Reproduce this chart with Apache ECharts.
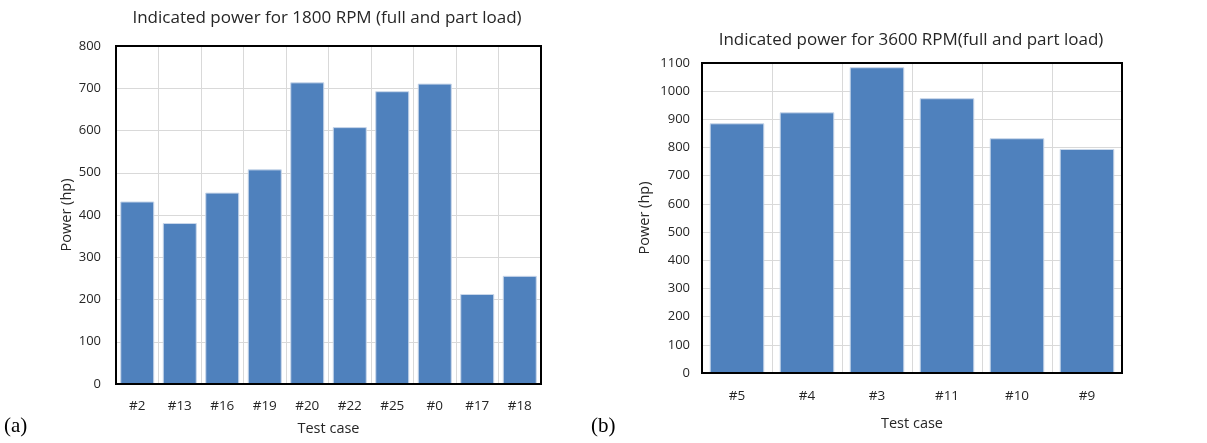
<!DOCTYPE html>
<html>
<head>
<meta charset="utf-8">
<script src="https://cdn.jsdelivr.net/npm/echarts@6/dist/echarts.min.js"></script>
<style>
html,body{margin:0;padding:0;background:#fff;}
#c{width:1207px;height:443px;}
</style>
</head>
<body>
<div id="c"></div>
<script>
const casesA = ['#2','#13','#16','#19','#20','#22','#25','#0','#17','#18'];
const powerA = [432, 381, 453, 508, 714, 608, 693, 711, 213, 256];
const casesB = ['#5','#4','#3','#11','#10','#9'];
const powerB = [886, 925, 1085, 975, 833, 795];
const titleA = 'Indicated power for 1800 RPM (full and part load)';
const titleB = 'Indicated power for 3600 RPM(full and part load)';

const FONT = '"Open Sans", "Noto Sans", sans-serif';
const txt = '#262626';
const gridLine = { show: true, showMinLine: false, showMaxLine: false, lineStyle: { color: '#d9d9d9', width: 1 } };
const barColor = '#4f81bd';

const chart = echarts.init(document.getElementById('c'), null, { renderer: 'canvas' });
chart.setOption({
  animation: false,
  backgroundColor: '#fff',
  title: [
    { text: titleA, left: 322, top: 5, textAlign: 'center',
      textStyle: { fontFamily: FONT, fontSize: 17, fontWeight: 'normal', color: txt } },
    { text: titleB, left: 906, top: 27, textAlign: 'center',
      textStyle: { fontFamily: FONT, fontSize: 17, fontWeight: 'normal', color: txt } }
  ],
  graphic: [
    { type: 'text', left: 4, top: 416, style: { text: '(a)', font: '21px "Liberation Serif", serif', fill: '#000' } },
    { type: 'text', left: 591, top: 416, style: { text: '(b)', font: '21px "Liberation Serif", serif', fill: '#000' } }
  ],
  grid: [
    { left: 116, right: 666, top: 46, bottom: 59, show: true, borderColor: '#000', borderWidth: 2, containLabel: false, z: 3 },
    { left: 702, right: 85, top: 63, bottom: 70, show: true, borderColor: '#000', borderWidth: 2, containLabel: false, z: 3 }
  ],
  xAxis: [
    { type: 'category', gridIndex: 0, data: casesA,
      axisLine: { show: true, lineStyle: { color: '#000', width: 2 } }, axisTick: { show: false },
      splitLine: gridLine,
      axisLabel: { margin: 15, fontFamily: FONT, fontSize: 13.5, color: txt },
      name: 'Test case', nameLocation: 'middle', nameGap: 37,
      nameTextStyle: { fontFamily: FONT, fontSize: 14.5, color: txt } },
    { type: 'category', gridIndex: 1, data: casesB,
      axisLine: { show: true, lineStyle: { color: '#000', width: 2 } }, axisTick: { show: false },
      splitLine: gridLine,
      axisLabel: { margin: 16, fontFamily: FONT, fontSize: 13.5, color: txt },
      name: 'Test case', nameLocation: 'middle', nameGap: 43,
      nameTextStyle: { fontFamily: FONT, fontSize: 14.5, color: txt } }
  ],
  yAxis: [
    { type: 'value', gridIndex: 0, min: 0, max: 800, interval: 100,
      axisLine: { show: true, lineStyle: { color: '#000', width: 2 } }, axisTick: { show: false },
      splitLine: gridLine,
      axisLabel: { margin: 15, fontFamily: FONT, fontSize: 13, color: txt, formatter: v => String(v) },
      name: 'Power (hp)', nameLocation: 'middle', nameGap: 41, nameRotate: 90,
      nameTextStyle: { fontFamily: FONT, fontSize: 14.5, color: txt } },
    { type: 'value', gridIndex: 1, min: 0, max: 1100, interval: 100,
      axisLine: { show: true, lineStyle: { color: '#000', width: 2 } }, axisTick: { show: false },
      splitLine: gridLine,
      axisLabel: { margin: 12, fontFamily: FONT, fontSize: 13, color: txt, formatter: v => String(v) },
      name: 'Power (hp)', nameLocation: 'middle', nameGap: 50, nameRotate: 90,
      nameTextStyle: { fontFamily: FONT, fontSize: 14.5, color: txt } }
  ],
  series: [
    { type: 'bar', xAxisIndex: 0, yAxisIndex: 0, data: powerA, barCategoryGap: '20%',
      itemStyle: { color: barColor, borderColor: '#c9d7ea', borderWidth: 1 } },
    { type: 'bar', xAxisIndex: 1, yAxisIndex: 1, data: powerB, barCategoryGap: '22%',
      itemStyle: { color: barColor, borderColor: '#c9d7ea', borderWidth: 1 } }
  ]
});
</script>
</body>
</html>
